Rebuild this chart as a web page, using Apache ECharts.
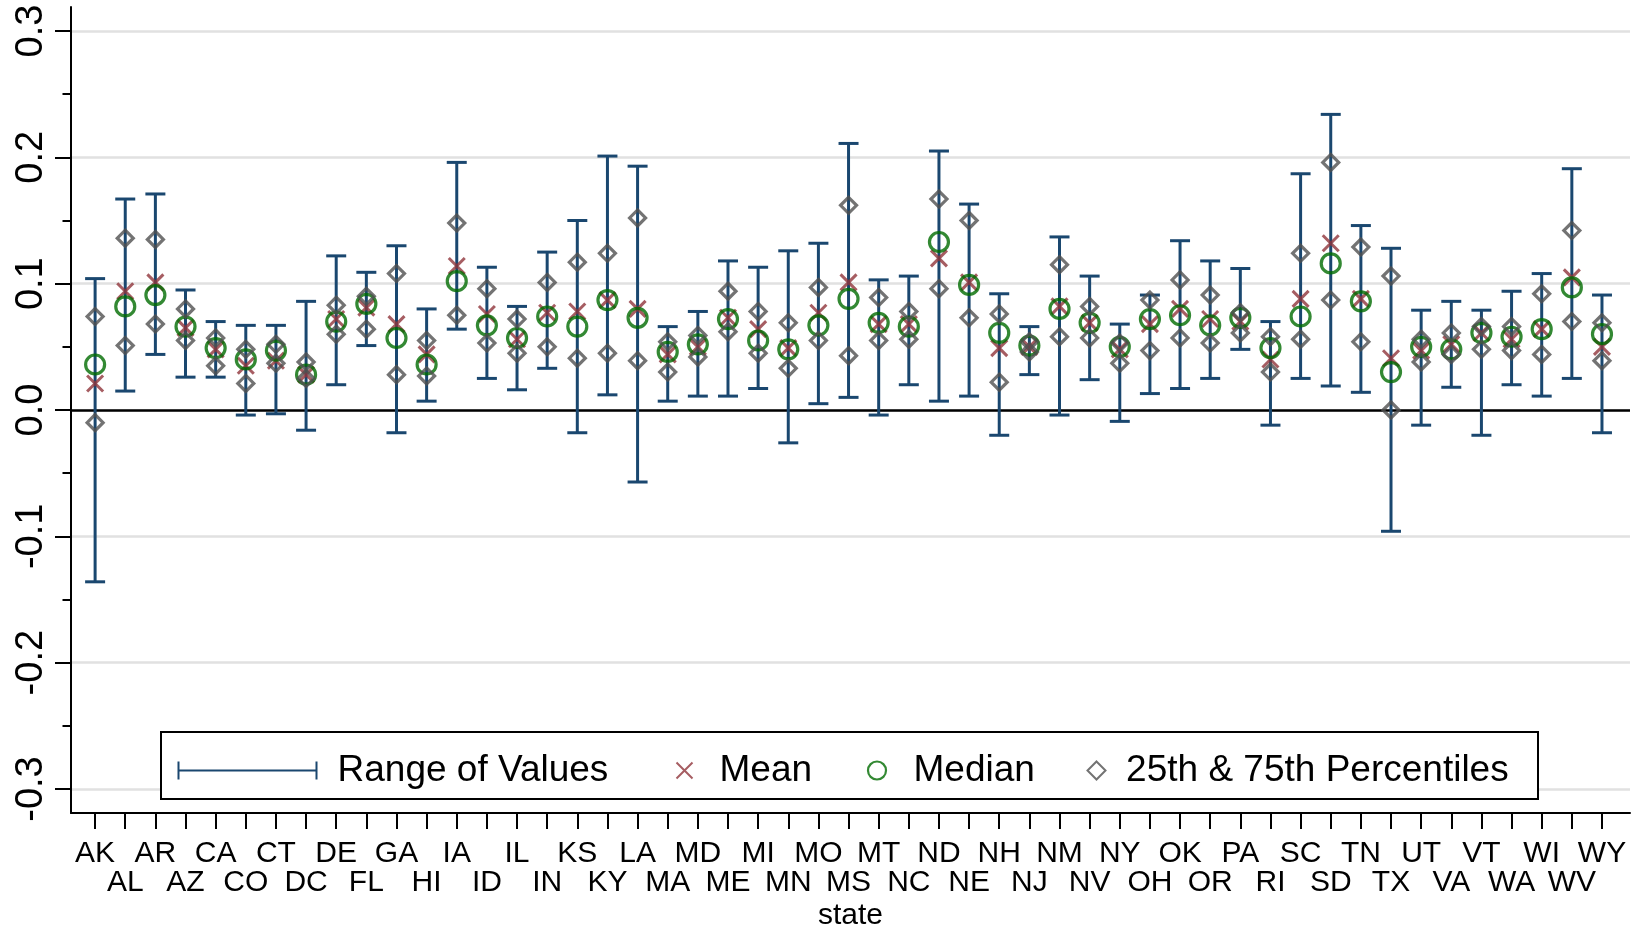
<!DOCTYPE html>
<html><head><meta charset="utf-8">
<script src="https://cdn.jsdelivr.net/npm/echarts@6/dist/echarts.min.js"></script>
<style>html,body{margin:0;padding:0;background:#fff}#c{width:1638px;height:932px}</style>
</head><body><div id="c"></div>
<script>
const categories = ['AK','AL','AR','AZ','CA','CO','CT','DC','DE','FL','GA','HI','IA','ID','IL','IN','KS','KY','LA','MA','MD','ME','MI','MN','MO','MS','MT','NC','ND','NE','NH','NJ','NM','NV','NY','OH','OK','OR','PA','RI','SC','SD','TN','TX','UT','VA','VT','WA','WI','WV','WY'];
const rangeMin = [-0.136,0.015,0.044,0.026,0.026,-0.004,-0.003,-0.016,0.020,0.051,-0.018,0.007,0.064,0.025,0.016,0.033,-0.018,0.012,-0.057,0.007,0.011,0.011,0.017,-0.026,0.005,0.010,-0.004,0.020,0.007,0.011,-0.020,0.028,-0.004,0.024,-0.009,0.013,0.017,0.025,0.048,-0.012,0.025,0.019,0.014,-0.096,-0.012,0.018,-0.020,0.020,0.011,0.025,-0.018];
const rangeMax = [0.104,0.167,0.171,0.095,0.070,0.067,0.067,0.086,0.122,0.109,0.130,0.080,0.196,0.113,0.082,0.125,0.150,0.201,0.193,0.066,0.078,0.118,0.113,0.126,0.132,0.211,0.103,0.106,0.205,0.163,0.092,0.066,0.137,0.106,0.068,0.091,0.134,0.118,0.112,0.070,0.187,0.234,0.146,0.128,0.079,0.086,0.079,0.094,0.108,0.191,0.091];
const meanVals = [0.021,0.094,0.101,0.065,0.048,0.035,0.039,0.028,0.072,0.081,0.068,0.044,0.114,0.076,0.056,0.077,0.078,0.087,0.080,0.044,0.050,0.073,0.064,0.049,0.077,0.101,0.068,0.068,0.120,0.101,0.049,0.050,0.082,0.069,0.048,0.068,0.080,0.072,0.070,0.040,0.088,0.132,0.088,0.041,0.047,0.052,0.061,0.056,0.064,0.105,0.050];
const medianVals = [0.036,0.082,0.091,0.066,0.049,0.040,0.047,0.028,0.070,0.084,0.057,0.036,0.102,0.067,0.057,0.074,0.066,0.087,0.073,0.046,0.052,0.072,0.055,0.048,0.067,0.088,0.069,0.066,0.133,0.099,0.061,0.051,0.080,0.069,0.050,0.072,0.075,0.067,0.073,0.049,0.074,0.116,0.086,0.030,0.050,0.048,0.061,0.058,0.064,0.097,0.060];
const p25Vals = [-0.010,0.051,0.068,0.055,0.035,0.021,0.037,0.025,0.060,0.064,0.028,0.027,0.075,0.053,0.045,0.050,0.041,0.045,0.039,0.030,0.042,0.062,0.045,0.033,0.055,0.043,0.055,0.056,0.096,0.073,0.022,0.046,0.058,0.057,0.037,0.047,0.057,0.053,0.061,0.030,0.056,0.087,0.054,0.000,0.038,0.044,0.048,0.047,0.044,0.070,0.039];
const p75Vals = [0.074,0.136,0.135,0.080,0.057,0.048,0.052,0.038,0.083,0.090,0.108,0.055,0.148,0.096,0.072,0.101,0.117,0.124,0.152,0.054,0.059,0.094,0.078,0.069,0.097,0.162,0.089,0.078,0.167,0.150,0.076,0.054,0.115,0.082,0.053,0.087,0.103,0.091,0.077,0.058,0.124,0.196,0.129,0.106,0.056,0.061,0.066,0.066,0.092,0.142,0.069];
const yTicks = [-0.3,-0.2,-0.1,0,0.1,0.2,0.3];
const yMinorTicks = [-0.25,-0.15,-0.05,0.05,0.15,0.25];
const xTicks = categories.map((c, i) => i);
const xTicksTopRow = xTicks.filter(i => i % 2 === 0);
const xTicksBottomRow = xTicks.filter(i => i % 2 === 1);

const NAVY = '#1a476f', MAROON = '#90353b', GREEN = '#006b00', GRAY = '#505050';
const FONT = '"Liberation Sans", Arial, Helvetica, sans-serif';

const rangeData = categories.map((c, i) => [i, rangeMin[i], rangeMax[i]]);
const meanData = categories.map((c, i) => [i, meanVals[i]]);
const medianData = categories.map((c, i) => [i, medianVals[i]]);
const pctData = [];
categories.forEach((c, i) => { pctData.push([i, p25Vals[i]]); pctData.push([i, p75Vals[i]]); });

const legendText = { fontSize: 37, fontFamily: FONT, color: '#000' };
function mkLegend(left, name, w, icon, style) {
  return { left: left, top: 752, padding: 0, itemWidth: w, itemHeight: 18, selectedMode: false,
    textStyle: legendText, data: [{ name: name, icon: icon, itemStyle: style }] };
}
const xLabelFmt = v => categories[Math.round(v)];

const chart = echarts.init(document.getElementById('c'), null, { renderer: 'canvas' });
chart.setOption({
  animation: false,
  backgroundColor: '#fff',
  grid: { left: 71, right: 8, top: 7, bottom: 119, containLabel: false, outerBoundsMode: 'none' },
  xAxis: [{
    type: 'value', min: -0.8, max: 50.93, position: 'bottom',
    axisLine: { show: true, onZero: false, lineStyle: { color: '#000', width: 2 } },
    axisTick: { show: true, customValues: xTicks, length: 16, lineStyle: { color: '#000', width: 2 } },
    axisLabel: { show: true, customValues: xTicksTopRow, showMinLabel: true, showMaxLabel: true, margin: 26,
      fontSize: 30, fontFamily: FONT, color: '#000', formatter: xLabelFmt },
    splitLine: { show: false },
    name: 'state', nameLocation: 'middle', nameGap: 88,
    nameTextStyle: { fontSize: 30, fontFamily: FONT, color: '#000' }
  }, {
    type: 'value', min: -0.8, max: 50.93, position: 'bottom',
    axisLine: { show: false, onZero: false },
    axisTick: { show: false },
    axisLabel: { show: true, customValues: xTicksBottomRow, showMinLabel: true, showMaxLabel: true, margin: 55,
      fontSize: 30, fontFamily: FONT, color: '#000', formatter: xLabelFmt },
    splitLine: { show: false }
  }],
  yAxis: [{
    type: 'value', min: -0.319, max: 0.319,
    axisLine: { show: true, onZero: false, lineStyle: { color: '#000', width: 2 } },
    axisTick: { show: true, customValues: yTicks, length: 16, lineStyle: { color: '#000', width: 2 } },
    axisLabel: { show: true, customValues: yTicks, showMinLabel: true, showMaxLabel: true, rotate: 90, margin: 20,
      fontSize: 38, fontFamily: FONT, color: '#000', formatter: v => v.toFixed(1) },
    splitLine: { show: true, lineStyle: { color: '#e1e1e1', width: 2.5 } }
  }, {
    type: 'value', min: -0.319, max: 0.319, position: 'left',
    axisLine: { show: false, onZero: false },
    axisTick: { show: true, customValues: yMinorTicks, length: 8.5, lineStyle: { color: '#000', width: 2 } },
    axisLabel: { show: false }, splitLine: { show: false }
  }],
  legend: [
    mkLegend(176, 'Range of Values', 154, 'path://M0,0L0,18M0,9L138,9M138,0L138,18M154,9L154,9',
      { color: 'none', borderColor: NAVY, borderWidth: 2 }),
    mkLegend(673, 'Mean', 39, 'path://M1,1L17,17M17,1L1,17M39,9L39,9M0,0L0,0M0,18L0,18',
      { color: 'none', borderColor: MAROON, borderWidth: 2 }),
    mkLegend(865.5, 'Median', 40.5, 'path://M0,9A9,9 0 1 1 18,9A9,9 0 1 1 0,9ZM40.5,9L40.5,9',
      { color: 'none', borderColor: GREEN, borderWidth: 2.2 }),
    mkLegend(1085, '25th & 75th Percentiles', 33.6, 'path://M9,0L18,9L9,18L0,9ZM33.6,9L33.6,9',
      { color: 'none', borderColor: GRAY, borderWidth: 2 })
  ],
  graphic: [{ type: 'rect', z: 3, silent: true, shape: { x: 161, y: 732, width: 1377, height: 67 },
    style: { fill: '#fff', stroke: '#000', lineWidth: 2 } }],
  series: [
    {
      name: 'Range of Values', type: 'custom', z: 2, data: rangeData, encode: { x: 0, y: [1, 2] },
      itemStyle: { color: NAVY },
      renderItem: function (params, api) {
        const x = api.value(0);
        const pLo = api.coord([x, api.value(1)]);
        const pHi = api.coord([x, api.value(2)]);
        const hw = 10;
        const st = { stroke: NAVY, lineWidth: 3, fill: null };
        return { type: 'group', children: [
          { type: 'line', shape: { x1: pLo[0], y1: pLo[1], x2: pHi[0], y2: pHi[1] }, style: st },
          { type: 'line', shape: { x1: pHi[0] - hw, y1: pHi[1], x2: pHi[0] + hw, y2: pHi[1] }, style: st },
          { type: 'line', shape: { x1: pLo[0] - hw, y1: pLo[1], x2: pLo[0] + hw, y2: pLo[1] }, style: st }
        ]};
      },
      markLine: { silent: true, symbol: 'none', label: { show: false }, z: 1,
        lineStyle: { color: '#000', width: 2.5, type: 'solid' }, data: [{ yAxis: 0 }] }
    },
    {
      name: 'Mean', type: 'scatter', z: 3, data: meanData, symbol: 'path://M0,0L10,10M10,0L0,10', symbolSize: 16,
      itemStyle: { color: 'none', borderColor: MAROON, borderWidth: 3 }, emphasis: { disabled: true }
    },
    {
      name: 'Median', type: 'scatter', z: 4, data: medianData, symbol: 'circle', symbolSize: 19,
      itemStyle: { color: 'rgba(0,0,0,0)', borderColor: GREEN, borderWidth: 3.2 }, emphasis: { disabled: true }
    },
    {
      name: '25th & 75th Percentiles', type: 'scatter', z: 5, data: pctData, symbol: 'diamond', symbolSize: 16,
      itemStyle: { color: 'rgba(0,0,0,0)', borderColor: GRAY, borderWidth: 3.2 }, emphasis: { disabled: true }
    }
  ]
});
</script></body></html>
